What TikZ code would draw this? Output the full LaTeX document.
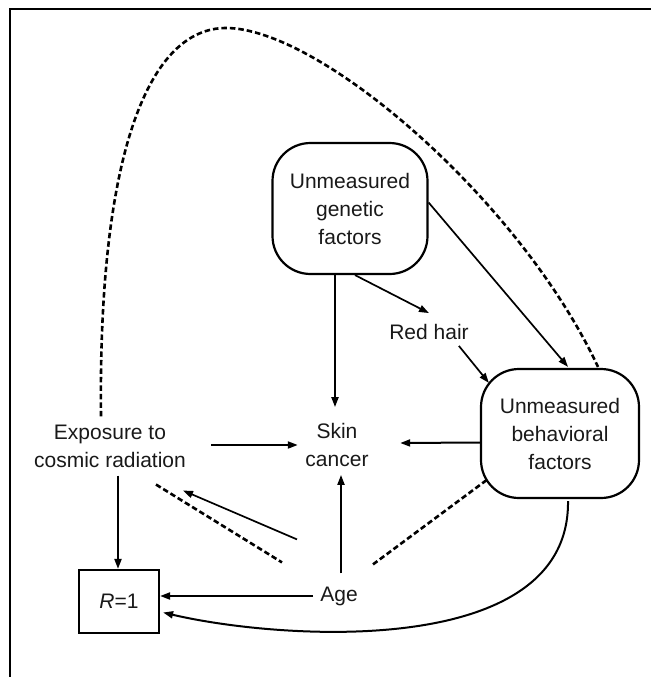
\documentclass[tikz,border=0pt]{standalone}
\usepackage{fontspec}
\setmainfont{Liberation Sans}
\usetikzlibrary{arrows.meta,calc}
\begin{document}
\begin{tikzpicture}[x=1pt,y=-1pt,
  txt/.style={font=\fontsize{21}{28}\selectfont, align=center, inner sep=0pt, text=black!90},
  rbox/.style={txt, draw, line width=2.2pt, rounded corners=38pt},
  sqbox/.style={txt, draw, line width=2.2pt},
  arr/.style={line width=2pt, -{Triangle[length=10pt,width=7pt]}},
  darr/.style={line width=1.7pt, -{Triangle[length=10pt,width=7pt]}},
  dsh/.style={line width=2.6pt, dash pattern=on 5.5pt off 3pt},
  frameline/.style={line width=2.2pt}]
\useasboundingbox (0,0) rectangle (651,677);
% frame
\coordinate (ftl) at (10,9);
\coordinate (ftr) at (651,9);
\coordinate (fbl) at (10,677);
\draw[frameline] (fbl) -- (ftl) -- (ftr);
% nodes
\node[rbox, minimum width=155pt, minimum height=131pt] (gen) at (350,208.5) {Unmeasured\\genetic\\factors};
\node[rbox, minimum width=158pt, minimum height=129pt] (beh) at (560,433.5) {Unmeasured\\behavioral\\factors};
\node[sqbox, minimum width=80pt, minimum height=63pt] (r) at (119,601.5) {\textit{R}=1};
\node[txt] (exp) at (110,446) {Exposure to\\cosmic radiation};
\node[txt] (skin) at (337,445) {Skin\\cancer};
\node[txt] (red) at (429,332) {Red hair};
\node[txt] (age) at (339,596) {Age};
% solid arrows
\draw[arr] ($(gen.south)+(-15,0)$) -- ($(skin.north)+(-2,-16)$);
\draw[darr] ($(gen.south)+(5,0)$) -- ($(red.north)+(0,-11)$);
\draw[darr] ($(gen.east)+(0,-6)$) -- ($(beh.north)+(8,-1)$);
\draw[darr] ($(red.south east)+(-10,6)$) -- ($(beh.north west)+(9,15)$);
\draw[arr] ($(exp.east)+(25,-1)$) -- ($(skin.west)+(-7.5,0)$);
\draw[arr] ($(beh.west)+(0,9)$) -- ($(skin.east)+(31.5,-2)$);
\draw[arr] ($(exp.south)+(8,8)$) -- (r.north -| {$(exp.south)+(8,8)$});
\draw[arr] ($(age.north)+(2,-13)$) -- ($(skin.south)+(4,8)$);
\draw[arr] ($(age.west)+(-7,0)$) -- (age.west -| r.east);
\draw[darr] ($(age.north)+(-42,-47)$) -- ($(exp.south)+(73,23)$);
\draw[arr] ($(beh.south)+(8,2)$) .. controls (570,660) and (280,640) .. ($(r.east)+(3,11)$);
% dashed associations
\draw[dsh] ($(exp.south)+(46,17)$) -- ($(age.north)+(-57,-24)$);
\draw[dsh] ($(age.north)+(34,-22)$) -- ($(beh.south west)+(8,-20)$);
\coordinate (top) at (226,28);
\draw[dsh] ($(exp.north)+(-9,-8)$) .. controls (98,150) and (150,28) .. (top)
  .. controls (320,28) and (520,200) .. ($(beh.north)+(38,-1)$);
\end{tikzpicture}
\end{document}
